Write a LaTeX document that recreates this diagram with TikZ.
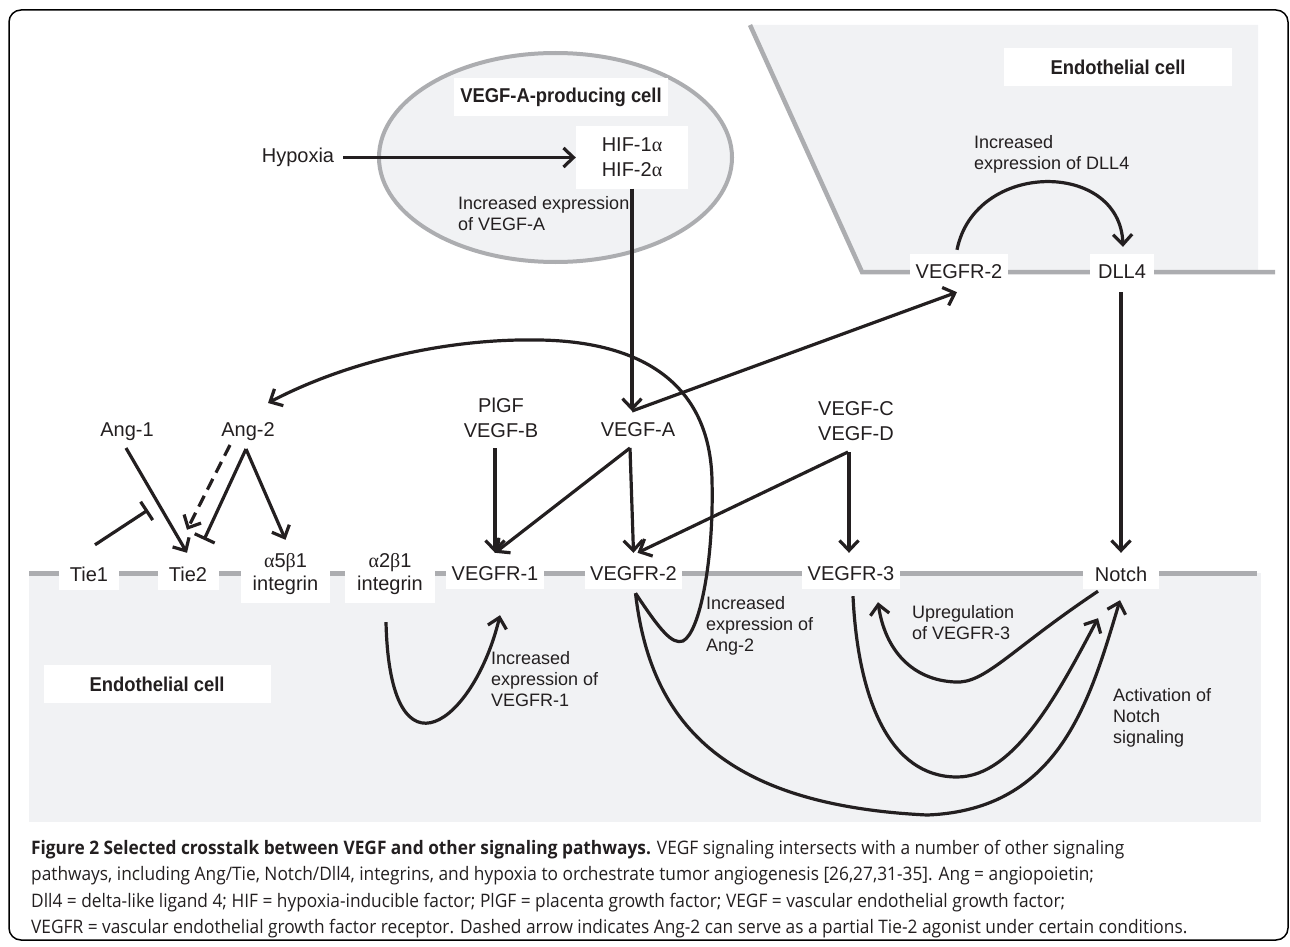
\documentclass[tikz,border=0pt]{standalone}
\usepackage{fontspec}
\setmainfont{Liberation Sans}
\newfontfamily\capfont[FakeStretch=0.93]{Open Sans}
\newfontfamily\hdrfont[FakeStretch=0.92]{Liberation Sans}
\newfontfamily\grk{Liberation Serif}
\usetikzlibrary{arrows.meta,calc}
\definecolor{cellfill}{RGB}{241,242,244}
\definecolor{memb}{RGB}{172,173,176}
\definecolor{ink}{RGB}{35,31,32}
\tikzset{
  lab/.style={font=\fontsize{20}{25}\selectfont, inner sep=0pt, align=center, text=ink},
  wbox/.style={fill=white, inner sep=0pt, align=center, font=\fontsize{20}{23}\selectfont, text=ink},
  hdr/.style={fill=white, inner sep=0pt, font=\hdrfont\bfseries\fontsize{20}{24}\selectfont, text=ink},
  note/.style={font=\fontsize{18}{21}\selectfont, align=left, inner sep=0pt, anchor=west, text=ink},
  arr/.style={line width=3.2pt, draw=ink, -{Straight Barb[length=10pt,width=19pt]}},
  inh/.style={line width=3.2pt, draw=ink, -{Bar[width=22pt]}},
  dashline/.style={dash pattern=on 12pt off 7pt},
  capline/.style={anchor=base west, inner sep=0pt, text=ink, font=\capfont\fontsize{18.6}{21}\selectfont},
}
\begin{document}
\begin{tikzpicture}[x=1pt,y=-1pt]
\useasboundingbox (0,0) rectangle (1290,947);
% frame
\draw[line width=1.5pt, rounded corners=12pt] (9,10) rectangle (1288,940);
% upper endothelial cell
\fill[cellfill] (750,25) -- (1258,25) -- (1258,272) -- (862,272) -- cycle;
\draw[memb, line width=4.5pt] (750,25) -- (862,272) -- (1275,272);
% VEGF-A producing cell
\draw[memb, line width=4pt, fill=cellfill] (555.5,157.5) ellipse [x radius=176.5pt, y radius=104.5pt];
% lower endothelial cell
\fill[cellfill] (29,573) rectangle (1261,822);
\draw[memb, line width=5pt] (29,573) -- (1257,573);

% header boxes
\node[hdr, minimum width=214pt, minimum height=38pt] (prod) at (561,97) {VEGF-A-producing cell};
\node[hdr, minimum width=228pt, minimum height=38pt] (endoA) at (1118,67) {Endothelial cell};
\node[hdr, minimum width=227pt, minimum height=38pt] (endoB) at (157,684) {Endothelial cell};

% nodes
\node[lab] (hyp) at (298,157.5) {Hypoxia};
\node[wbox, minimum width=112pt, minimum height=62pt, font=\fontsize{20}{25}\selectfont] (hif) at (632,157.5) {HIF-1{\grk α}\\HIF-2{\grk α}};
\node[wbox, minimum width=98pt, minimum height=36pt] (tv2) at (959,272) {VEGFR-2};
\node[wbox, minimum width=64pt, minimum height=36pt] (dll4) at (1122,272) {DLL4};
\node[lab] (vegfa) at (638,430) {VEGF-A};
\node[lab] (plgf) at (501,418) {PlGF\\VEGF-B};
\node[lab] (vegfcd) at (856,421) {VEGF-C\\VEGF-D};
\node[lab] (ang1) at (127,432) {Ang-1};
\node[lab] (ang2) at (248,432) {Ang-2};

\node[wbox, minimum width=60pt, minimum height=32pt] (tie1) at (89,574) {Tie1};
\node[wbox, minimum width=61pt, minimum height=32pt] (tie2) at (188,574) {Tie2};
\node[wbox, minimum width=89pt, minimum height=45pt] (a5b1) at (285.5,580.5) {};
\node[lab, font=\fontsize{20}{23}\selectfont] (a5b1t) at (285.5,574) {{\grk α}5{\grk β}1\\integrin};
\node[wbox, minimum width=90pt, minimum height=45pt] (a2b1) at (390,580.5) {};
\node[lab, font=\fontsize{20}{23}\selectfont] (a2b1t) at (390,574) {{\grk α}2{\grk β}1\\integrin};
\node[wbox, minimum width=98pt, minimum height=30pt] (r1) at (495,574) {VEGFR-1};
\node[wbox, minimum width=97pt, minimum height=30pt] (r2) at (633.5,574) {VEGFR-2};
\node[wbox, minimum width=98pt, minimum height=30pt] (r3) at (851,574) {VEGFR-3};
\node[wbox, minimum width=76pt, minimum height=30pt] (notch) at (1121,574) {Notch};

% labels
\node[note] (incA) at (458,213.5) {Increased expression\\of VEGF-A};
\node[note] (incD) at (974,154) {Increased\\expression of DLL4};
\node[note] (incAng) at (706,626) {Increased\\expression of\\Ang-2};
\node[note] (incR1) at (491,679) {Increased\\expression of\\VEGFR-1};
\node[note] (upreg) at (912,622.5) {Upregulation\\of VEGFR-3};
\node[note] (activ) at (1113,718) {Activation of\\Notch\\signaling};

% connectors
\draw[arr] ($(hyp.east)+(9,0)$) -- (hif.west);
\draw[arr] (hif.south) -- ($(vegfa)+(-6,-19)$);
\draw[arr] ($(vegfa)+(-6,-19)$) -- ($(tv2.south)+(-2,2)$);
\draw[arr] ($(vegfa)+(-8,18)$) -- ($(r1.north)+(0,-6)$);
\draw[arr] ($(vegfa)+(-8,18)$) -- ($(r2.north)+(0,-6)$);
\draw[arr] ($(plgf)+(-6,30)$) -- ($(r1.north)+(0,-6)$);
\draw[arr] ($(vegfcd)+(-8,31)$) -- ($(r2.north)+(4,-6)$);
\draw[arr] ($(vegfcd)+(-7,31)$) -- ($(r3.north)+(-2,-6)$);
\draw[arr] ($(dll4.south)+(-1,2)$) -- ($(notch.north)+(0,-6)$);
\draw[arr] ($(tv2.north)+(-2,-4)$) .. controls (975,160) and (1120,160) .. ($(dll4.north)+(1,-7)$);

\draw[arr] ($(ang1)+(-1,16)$) -- ($(tie2.north)+(-1,-5)$);
\coordinate (t1bar) at (148,510);
\draw[inh] ($(tie1.north)+(6,-13)$) -- (t1bar);
\draw[arr, dashline] ($(ang2)+(-18,13)$) -- ($(tie2.north)+(-1,-28)$);
\draw[inh] ($(ang2)+(-2,17)$) -- ($(tie2.north)+(16,-18)$);
\draw[arr] ($(ang2)+(-2,17)$) -- ($(a5b1.north)+(0,-18)$);

% VEGFR-2 -> Ang-2
\draw[arr] ($(r2.south)+(2,4)$) .. controls (660,630) and (672,645) .. (683,641)
  .. controls (700,632) and (714,560) .. (712,480)
  .. controls (710,390) and (650,342) .. (540,340)
  .. controls (440,338) and (340,365) .. ($(ang2)+(20,-29)$);
% a2b1 -> VEGFR-1
\draw[arr] ($(a2b1.south)+(-4,19)$) .. controls (390,790) and (475,720) .. ($(r1.south)+(5,26)$);
% VEGFR-3 -> Notch
\draw[arr] ($(r3.south)+(2,7)$) .. controls (858,700) and (890,777) .. (957,777)
  .. controls (1015,777) and (1060,690) .. ($(notch.south)+(-23,29)$);
% Notch -> VEGFR-3
\draw[arr] ($(notch.south)+(-23,2)$) .. controls (1010,650) and (985,684) .. (955,682)
  .. controls (912,680) and (885,650) .. ($(r3.south)+(27,13)$);
% VEGFR-2 -> Notch
\draw[arr] ($(r2.south)+(2,4)$) .. controls (650,720) and (720,805) .. (927,815)
  .. controls (1060,810) and (1090,700) .. ($(notch.south)+(-1,11)$);

% caption
\node[capline] (cap1) at (31,854) {{\bfseries Figure 2 Selected crosstalk between VEGF and other signaling pathways.} VEGF signaling intersects with a number of other signaling};
\node[capline] (cap2) at (31,880.5) {pathways, including Ang/Tie, Notch/Dll4, integrins, and hypoxia to orchestrate tumor angiogenesis [26,27,31-35]. Ang = angiopoietin;};
\node[capline] (cap3) at (31,907) {Dll4 = delta-like ligand 4; HIF = hypoxia-inducible factor; PlGF = placenta growth factor; VEGF = vascular endothelial growth factor;};
\node[capline] (cap4) at (31,933.5) {VEGFR = vascular endothelial growth factor receptor. Dashed arrow indicates Ang-2 can serve as a partial Tie-2 agonist under certain conditions.};
\end{tikzpicture}
\end{document}
